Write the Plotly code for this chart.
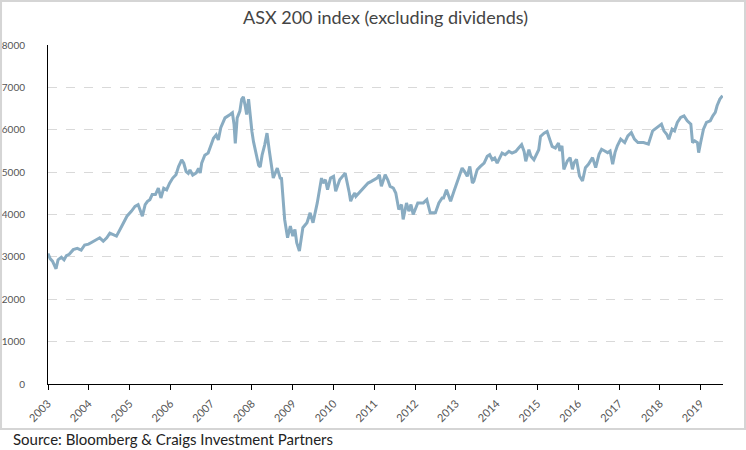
import plotly.graph_objects as go

dates = [
    "2003-01-01","2003-01-20","2003-02-10","2003-03-05","2003-03-14","2003-04-01","2003-04-20","2003-05-01","2003-05-25","2003-06-15",
    "2003-07-10","2003-08-15","2003-09-20","2003-10-25","2003-11-25","2003-12-30",
    "2004-01-25","2004-03-10","2004-04-08","2004-05-10","2004-06-10","2004-07-08","2004-08-08","2004-09-05","2004-10-08","2004-11-08","2004-12-08",
    "2005-01-18","2005-02-18","2005-03-18","2005-04-01","2005-04-25","2005-05-20","2005-06-10","2005-07-01","2005-07-22","2005-08-20",
    "2005-09-15","2005-10-08","2005-11-02","2005-11-28","2005-12-25",
    "2006-01-22","2006-02-20","2006-03-15","2006-04-12","2006-05-01","2006-05-22","2006-06-10","2006-06-25","2006-07-20","2006-08-20",
    "2006-09-10","2006-09-25","2006-10-08","2006-11-05","2006-12-05","2006-12-25",
    "2007-01-22","2007-02-15","2007-03-06","2007-03-28","2007-05-05","2007-06-20","2007-07-10","2007-07-25","2007-08-05","2007-08-22",
    "2007-09-15","2007-10-01","2007-10-16","2007-10-30","2007-11-15","2007-12-02","2007-12-16",
    "2008-01-01","2008-01-15","2008-02-06","2008-03-01","2008-03-15","2008-04-01","2008-04-25","2008-05-15","2008-06-05","2008-06-25",
    "2008-07-10","2008-08-15","2008-09-10","2008-09-22","2008-10-12","2008-10-20","2008-11-15","2008-12-10",
    "2009-01-01","2009-01-20","2009-02-05","2009-03-01","2009-04-01","2009-05-08","2009-06-05","2009-07-01","2009-08-08","2009-09-02",
    "2009-09-15","2009-09-28","2009-10-20","2009-11-08","2009-12-05",
    "2010-01-01","2010-01-20","2010-02-25","2010-04-15","2010-05-22","2010-06-03","2010-06-22","2010-07-10","2010-07-20","2010-09-12",
    "2010-10-12","2010-11-06","2010-12-05",
    "2011-01-25","2011-02-15","2011-03-05","2011-04-08","2011-05-01","2011-05-22","2011-06-20","2011-07-12","2011-08-08","2011-09-02",
    "2011-09-16","2011-10-16","2011-11-06","2011-11-25","2011-12-15",
    "2012-01-25","2012-03-15","2012-04-15","2012-05-15","2012-07-01","2012-08-01","2012-08-30","2012-09-12","2012-10-08","2012-10-28",
    "2012-11-14","2012-12-14",
    "2013-01-10","2013-02-05","2013-02-25","2013-03-18","2013-04-12","2013-05-05","2013-05-28","2013-06-10","2013-07-10","2013-08-08",
    "2013-09-10","2013-10-08","2013-10-30","2013-11-22","2013-12-14",
    "2014-01-05","2014-01-30","2014-02-18","2014-03-18","2014-04-20","2014-05-18","2014-06-20","2014-07-16","2014-08-12","2014-09-03",
    "2014-09-18","2014-10-16","2014-11-03","2014-11-30","2014-12-20",
    "2015-01-12","2015-01-28","2015-03-01","2015-03-28","2015-04-20","2015-05-12","2015-06-10","2015-07-08","2015-07-20","2015-08-08",
    "2015-08-25","2015-09-25","2015-10-20","2015-11-10","2015-11-25","2015-12-16",
    "2016-01-12","2016-02-08","2016-03-05","2016-04-01","2016-05-08","2016-06-05","2016-07-05","2016-07-28","2016-08-25","2016-09-20",
    "2016-10-12","2016-11-04","2016-11-25","2016-12-16",
    "2017-01-15","2017-02-20","2017-03-20","2017-04-20","2017-05-18","2017-06-18","2017-08-08","2017-09-20","2017-10-28","2017-12-12",
    "2018-01-15","2018-02-06","2018-03-03","2018-03-22","2018-04-20","2018-05-12","2018-06-06","2018-07-06","2018-08-05","2018-09-03",
    "2018-10-05","2018-10-20","2018-11-08","2018-12-03","2018-12-14",
    "2019-01-01","2019-01-26","2019-02-22","2019-03-28","2019-04-20","2019-05-12","2019-05-28","2019-06-22","2019-07-16",
]

asx200 = [
    3080,2960,2900,2780,2720,2930,2960,2990,2930,3030,
    3060,3170,3200,3160,3280,3300,
    3340,3410,3450,3370,3450,3560,3520,3490,3650,3800,3960,
    4080,4190,4230,4120,3960,4230,4310,4350,4470,4470,
    4620,4390,4620,4580,4740,
    4860,4940,5130,5290,5210,5010,4970,5050,4930,4980,
    5090,4980,5210,5400,5450,5600,
    5800,5880,5760,6050,6280,6360,6400,6120,5680,6280,
    6440,6720,6776,6600,6360,6720,6280,
    5960,5720,5480,5160,5120,5400,5650,5920,5500,5100,
    4860,5094,4860,4850,4000,3883,3453,3727,
    3492,3650,3336,3140,3688,3805,4040,3805,4273,4664,
    4860,4742,4820,4586,4860,
    4898,4547,4820,4976,4508,4312,4430,4508,4430,4586,
    4664,4742,4781,
    4860,4937,4664,4937,4820,4664,4625,4508,4117,4234,
    3883,4273,4078,4234,4000,
    4273,4273,4351,4039,4039,4273,4390,4390,4586,4430,
    4311,4547,
    4743,4979,5097,5018,4900,5136,4743,4782,5057,5136,
    5214,5372,5411,5293,5332,
    5214,5372,5450,5411,5489,5450,5489,5568,5647,5489,
    5254,5529,5372,5293,5411,
    5529,5843,5921,5961,5764,5607,5568,5686,5500,5620,
    5066,5264,5342,5066,5224,5303,
    4908,4790,5105,5184,5342,5105,5421,5540,5500,5460,
    5500,5184,5460,5620,
    5777,5698,5855,5934,5777,5698,5698,5660,5974,6053,
    6132,5974,5895,5777,6013,5974,6171,6290,6329,6211,
    6132,5698,5737,5698,5461,
    5698,6013,6171,6211,6329,6408,6566,6724,6803,
]

year_ticks = [f"{y}-01-01" for y in range(2003, 2020)]
year_labels = [str(y) for y in range(2003, 2020)]
y_ticks = [0, 1000, 2000, 3000, 4000, 5000, 6000, 7000, 8000]

title_text = "ASX 200 index (excluding dividends)"
source_text = "Source: Bloomberg &amp; Craigs Investment Partners"

FONT = "Lato, 'Open Sans', sans-serif"

fig = go.Figure()
fig.add_trace(go.Scatter(
    x=dates, y=asx200, mode="lines",
    line=dict(color="#89acc2", width=3),
    hoverinfo="x+y", showlegend=False,
))

fig.update_layout(
    width=746, height=450,
    margin=dict(l=48, r=23, t=45, b=66, autoexpand=False),
    paper_bgcolor="white", plot_bgcolor="white",
    font=dict(family=FONT, color="#555"),
    title=dict(text=title_text, x=0.5, xanchor="center", xref="paper",
               y=0.96, yanchor="middle",
               font=dict(size=18, color="#444", family=FONT)),
    xaxis=dict(
        type="date", range=["2003-01-01", "2019-07-20"], automargin=False,
        tickvals=year_ticks, ticktext=year_labels, tickangle=-45,
        ticks="outside", ticklen=5, tickcolor="black", tickwidth=1,
        showline=True, linecolor="black", linewidth=1,
        showgrid=False, zeroline=False, ticklabelstandoff=3,
        tickfont=dict(size=11, color="#555"),
    ),
    yaxis=dict(
        range=[0, 8000], tickvals=y_ticks, automargin=False,
        showline=True, linecolor="black", linewidth=1,
        showgrid=True, gridcolor="#d9d9d9", griddash="dash", gridwidth=1,
        zeroline=False, ticks="", ticklabelstandoff=20,
        tickfont=dict(size=10, color="#555"),
    ),
    shapes=[dict(type="rect", xref="paper", yref="paper",
                 x0=-0.0696, x1=1.0326, y0=-0.1327, y1=1.1298,
                 line=dict(color="#d5d5d5", width=2), layer="above")],
    annotations=[dict(text=source_text, xref="paper", yref="paper",
                      x=-0.055, y=-0.162, xanchor="left", yanchor="middle",
                      showarrow=False, font=dict(size=15, color="#222", family=FONT))],
)

fig.write_html("out.html", config={"displayModeBar": False},
               post_script="document.body.style.margin='0';document.body.style.padding='0';")
